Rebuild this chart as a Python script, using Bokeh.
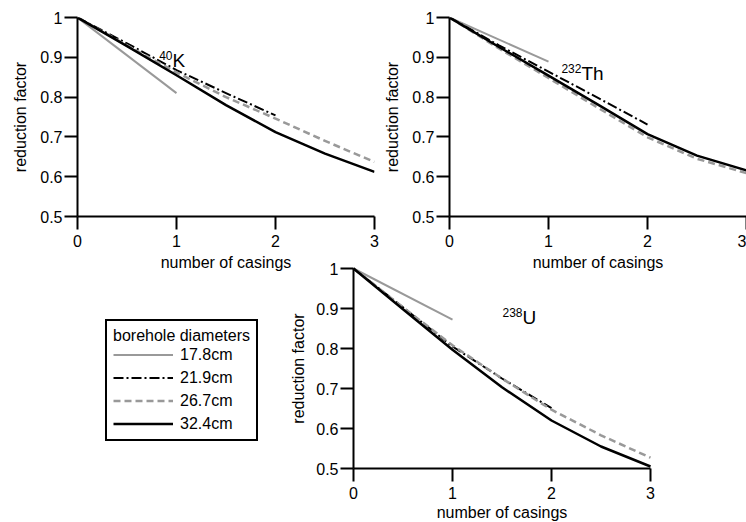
import math
from bokeh.plotting import figure
from bokeh.layouts import column, row
from bokeh.models import Range1d, FixedTicker, Legend, LegendItem, Label
from bokeh.embed import file_html
from bokeh.resources import INLINE

FONT = "Liberation Sans"
GRAY = "#999999"

# ---------------- data ----------------
x_ticks = [0, 1, 2, 3]
x_tick_labels = ["0", "1", "2", "3"]
y_ticks = [0.5, 0.6, 0.7, 0.8, 0.9, 1.0]
y_tick_labels = ["0.5", "0.6", "0.7", "0.8", "0.9", "1"]
x_title = "number of casings"
y_title = "reduction factor"

diameters = ["17.8cm", "21.9cm", "26.7cm", "32.4cm"]

casings_1 = [0, 1]
casings_2 = [0, 0.5, 1, 1.5, 2]
casings_3 = [0, 0.5, 1, 1.5, 2, 2.5, 3]

# 40K
k_178 = [1.0, 0.810]
k_219 = [1.0, 0.935, 0.868, 0.810, 0.754]
k_267 = [1.0, 0.930, 0.862, 0.800, 0.746, 0.690, 0.637]
k_324 = [1.0, 0.928, 0.855, 0.780, 0.712, 0.658, 0.612]

# 232Th
th_178 = [1.0, 0.889]
th_219 = [1.0, 0.930, 0.864, 0.798, 0.731]
th_267 = [1.0, 0.922, 0.848, 0.773, 0.699, 0.645, 0.609]
th_324 = [1.0, 0.926, 0.854, 0.781, 0.707, 0.653, 0.616]

# 238U
u_178 = [1.0, 0.872]
u_219 = [1.0, 0.903, 0.805, 0.725, 0.651]
u_267 = [1.0, 0.903, 0.808, 0.725, 0.647, 0.583, 0.527]
u_324 = [1.0, 0.898, 0.797, 0.703, 0.620, 0.555, 0.505]

panels = [
    ("40", "K", k_178, k_219, k_267, k_324),
    ("232", "Th", th_178, th_219, th_267, th_324),
    ("238", "U", u_178, u_219, u_267, u_324),
]

STYLES = [
    dict(line_color=GRAY, line_width=2),
    dict(line_color="black", line_width=2, line_dash="10 3 2 3"),
    dict(line_color=GRAY, line_width=2.5, line_dash="7 4"),
    dict(line_color="black", line_width=2.5),
]

X_MIN, X_MAX = 0, 3
Y_MIN, Y_MAX = 0.5, 1.0


def style_axes(p):
    p.xaxis.ticker = FixedTicker(ticks=x_ticks)
    p.yaxis.ticker = FixedTicker(ticks=y_ticks)
    p.xaxis.major_label_overrides = {float(t): s for t, s in zip(x_ticks, x_tick_labels)}
    p.yaxis.major_label_overrides = {float(t): s for t, s in zip(y_ticks, y_tick_labels)}
    for ax in (p.xaxis[0], p.yaxis[0]):
        ax.axis_line_width = 2
        ax.major_tick_line_width = 2
        ax.major_tick_out = 13
        ax.major_tick_in = 0
        ax.minor_tick_out = 0
        ax.minor_tick_in = 0
        ax.major_label_text_font = FONT
        ax.major_label_text_font_size = "16px"
        ax.major_label_text_color = "black"
        ax.axis_label_text_font = FONT
        ax.axis_label_text_font_size = "16px"
        ax.axis_label_text_font_style = "normal"
        ax.axis_label_text_color = "black"
    p.xaxis.major_label_standoff = 5
    p.yaxis.major_label_standoff = 2
    p.grid.visible = False
    p.outline_line_color = None


def make_top(width, bl, br):
    p = figure(width=width, height=274,
               x_range=Range1d(X_MIN, X_MAX), y_range=Range1d(Y_MIN, Y_MAX),
               output_backend="svg", toolbar_location=None,
               min_border_left=bl, min_border_right=br,
               min_border_top=17, min_border_bottom=58)
    style_axes(p)
    p.xaxis.axis_label = x_title
    p.yaxis.axis_label = y_title
    p.xaxis.axis_label_standoff = 4
    p.yaxis.axis_label_standoff = 8
    return p


fig_a = make_top(380, 77, 6)
fig_b = make_top(366, 69, 0)

# bottom panel: the frame is widened (left and below) so that the legend and the
# axis texts sit inside it; the axes are pinned at x=0 / y=0.5.
PXU_X, PXU_Y = 99.0, 400.0
C_LEFT, C_ZERO_X, C_RIGHT = 95, 353, 665
C_TOP, C_ONE_Y, C_HALF_Y, C_BOTTOM = 250, 268, 468, 522
fig_c = figure(width=C_RIGHT, height=C_BOTTOM - C_TOP,
               x_range=Range1d(X_MIN - (C_ZERO_X - C_LEFT) / PXU_X,
                               X_MAX + (C_RIGHT - (C_ZERO_X + 3 * PXU_X)) / PXU_X),
               y_range=Range1d(Y_MIN - (C_BOTTOM - C_HALF_Y) / PXU_Y,
                               Y_MAX + (C_ONE_Y - C_TOP) / PXU_Y),
               output_backend="svg", toolbar_location=None,
               min_border_left=C_LEFT, min_border_right=0,
               min_border_top=0, min_border_bottom=0)
style_axes(fig_c)
fig_c.background_fill_color = None
fig_c.border_fill_color = None
fig_c.yaxis.fixed_location = X_MIN
fig_c.xaxis.fixed_location = Y_MIN
fig_c.xaxis.bounds = (X_MIN, X_MAX)
fig_c.yaxis.bounds = (Y_MIN, Y_MAX)
fig_c.add_layout(Label(x=(X_MIN + X_MAX) / 2, y=Y_MIN, y_offset=-44, text=x_title,
                       text_font=FONT, text_font_size="16px", text_color="black",
                       text_align="center", text_baseline="middle"))
fig_c.add_layout(Label(x=X_MIN, y=(Y_MIN + Y_MAX) / 2, x_offset=-55, text=y_title,
                       angle=math.pi / 2,
                       text_font=FONT, text_font_size="16px", text_color="black",
                       text_align="center", text_baseline="middle"))

label_pos = [(0.96, 0.892), (1.333, 0.859), (1.707, 0.8775)]

renderers_c = []
for p, (sup, elem, d178, d219, d267, d324), (lx, ly) in zip(
        [fig_a, fig_b, fig_c], panels, label_pos):
    rs = []
    for xs, ys, st in zip([casings_1, casings_2, casings_3, casings_3],
                          [d178, d219, d267, d324], STYLES):
        rs.append(p.line(xs, ys, line_join="round", **st))
    if p is fig_c:
        renderers_c = rs
    p.add_layout(Label(x=lx, y=ly, text=elem, text_font=FONT,
                       text_font_size="19px", text_baseline="alphabetic",
                       text_align="left", text_color="black"))
    p.add_layout(Label(x=lx, y=ly, y_offset=5, text=sup, text_font=FONT,
                       text_font_size="12px", text_baseline="alphabetic",
                       text_align="right", text_color="black"))

legend = Legend(
    items=[LegendItem(label=d, renderers=[r]) for d, r in zip(diameters, renderers_c)],
    location=(105 - C_LEFT, C_BOTTOM - 441),
    title="borehole diameters",
    title_text_font=FONT, title_text_font_size="16px",
    title_text_font_style="normal", title_text_color="black",
    title_standoff=0,
    label_text_font=FONT, label_text_font_size="16px", label_text_color="black",
    border_line_color="black", border_line_width=2, border_line_alpha=1.0,
    background_fill_color="white", background_fill_alpha=1.0,
    padding=6, spacing=4, label_height=19, glyph_height=19, glyph_width=60,
    label_standoff=7, margin=0,
)
fig_c.add_layout(legend, "center")

fig_c.margin = (-24, 0, 0, 0)

layout = column(row(fig_a, fig_b), fig_c)

with open("out.html", "w") as f:
    f.write(file_html(layout, INLINE))
